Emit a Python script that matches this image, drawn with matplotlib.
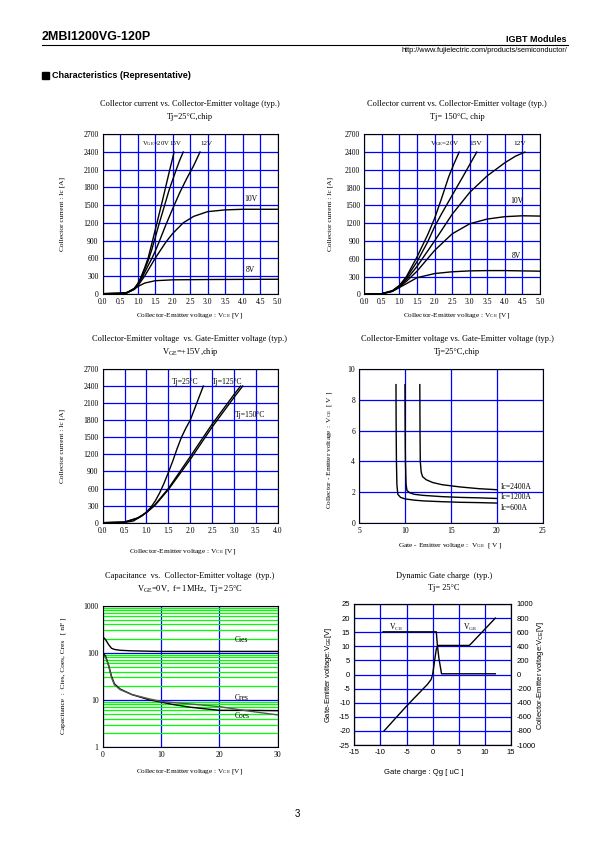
import matplotlib
matplotlib.use('Agg')
import numpy as np
import matplotlib.pyplot as plt
from matplotlib.ticker import NullFormatter, LogLocator

W, H = 595, 842
SERIF = ['Liberation Serif', 'DejaVu Serif']
SANS = ['Liberation Sans', 'DejaVu Sans']
plt.rcParams['font.family'] = SERIF
plt.rcParams['mathtext.default'] = 'regular'
plt.rcParams['axes.unicode_minus'] = False

BLUE = '#0000ff'
GREEN = '#00ff00'

# ---- Ic vs Vce, Tj=25C
v25_20 = [0, 0.5, 0.7, 0.9, 1.0, 1.1, 1.2, 1.3, 1.4, 1.5, 1.6, 1.7, 1.8, 1.9, 2.04]
i25_20 = [0, 5, 20, 90, 170, 290, 440, 610, 840, 1080, 1320, 1560, 1810, 2060, 2400]
v25_15 = [0, 0.5, 0.7, 0.9, 1.0, 1.1, 1.2, 1.3, 1.4, 1.5, 1.6, 1.7, 1.8, 1.9, 2.0, 2.1, 2.2, 2.3]
i25_15 = [0, 5, 20, 85, 160, 270, 410, 560, 740, 950, 1160, 1360, 1560, 1760, 1930, 2100, 2260, 2400]
v25_12 = [0, 0.5, 0.7, 0.9, 1.0, 1.1, 1.2, 1.3, 1.4, 1.5, 1.6, 1.8, 2.0, 2.2, 2.4, 2.6, 2.78]
i25_12 = [0, 5, 20, 80, 150, 250, 360, 480, 590, 720, 860, 1160, 1440, 1710, 1950, 2170, 2400]
v25_10 = [0, 0.5, 0.7, 0.9, 1.0, 1.2, 1.5, 1.8, 2.0, 2.3, 2.6, 3.0, 3.5, 4.0, 5.0]
i25_10 = [0, 5, 20, 70, 130, 300, 600, 870, 1020, 1200, 1310, 1390, 1420, 1430, 1430]
v25_8 = [0, 0.5, 0.7, 0.9, 1.0, 1.2, 1.5, 2.0, 3.0, 5.0]
i25_8 = [0, 5, 15, 80, 120, 180, 220, 235, 240, 245]

# ---- Ic vs Vce, Tj=150C
v150_20 = [0, 0.5, 0.8, 1.0, 1.2, 1.5, 1.8, 2.0, 2.2, 2.4, 2.55, 2.7]
i150_20 = [0, 10, 60, 150, 300, 630, 1000, 1280, 1620, 1980, 2200, 2400]
v150_15 = [0, 0.5, 0.8, 1.0, 1.2, 1.5, 1.8, 2.0, 2.2, 2.5, 2.8, 3.0, 3.2]
i150_15 = [0, 10, 60, 145, 280, 550, 880, 1140, 1360, 1670, 1980, 2190, 2400]
v150_12 = [0, 0.5, 0.8, 1.0, 1.2, 1.5, 2.0, 2.5, 3.0, 3.5, 4.0, 4.3, 4.57]
i150_12 = [0, 10, 55, 135, 250, 470, 900, 1350, 1720, 2000, 2220, 2330, 2400]
v150_10 = [0, 0.5, 0.8, 1.0, 1.2, 1.5, 2.0, 2.5, 3.0, 3.5, 4.0, 4.5, 5.0]
i150_10 = [0, 10, 50, 125, 220, 390, 740, 1020, 1190, 1270, 1310, 1325, 1320]
v150_8 = [0, 0.5, 0.8, 1.0, 1.2, 1.5, 2.0, 2.5, 3.0, 3.5, 4.0, 4.5, 5.0]
i150_8 = [0, 10, 50, 115, 180, 280, 350, 380, 395, 400, 400, 395, 390]

# ---- Ic vs Vce, VGE=15V, different Tj
vt25 = [0, 0.5, 0.7, 0.9, 1.0, 1.1, 1.2, 1.3, 1.4, 1.5, 1.6, 1.7, 1.8, 1.9, 2.0, 2.1, 2.2, 2.3]
it25 = [0, 5, 30, 120, 190, 270, 380, 520, 690, 880, 1080, 1300, 1500, 1660, 1800, 2000, 2200, 2400]
vt125 = [0, 0.5, 0.8, 1.0, 1.2, 1.5, 2.0, 2.5, 3.0, 3.15]
it125 = [0, 10, 80, 180, 320, 600, 1160, 1730, 2250, 2400]
vt150 = [0, 0.5, 0.8, 1.0, 1.2, 1.5, 2.0, 2.5, 3.0, 3.2]
it150 = [0, 12, 85, 175, 310, 580, 1110, 1680, 2200, 2400]

# ---- Vce vs Vge, Tj=25C
vge600 = [9.0, 9.02, 9.05, 9.1, 9.2, 9.5, 10, 11, 12, 14, 16, 18, 20]
vce600 = [9.0, 6.0, 4.0, 2.5, 1.85, 1.65, 1.55, 1.47, 1.42, 1.37, 1.33, 1.31, 1.28]
vge1200 = [9.98, 10.0, 10.03, 10.1, 10.2, 10.5, 11, 12, 14, 16, 18, 20]
vce1200 = [9.0, 6.0, 4.0, 2.5, 2.1, 1.95, 1.85, 1.78, 1.70, 1.65, 1.62, 1.58]
vge2400 = [11.6, 11.62, 11.65, 11.75, 11.9, 12.3, 13, 14, 16, 18, 20]
vce2400 = [9.0, 6.0, 4.0, 3.3, 3.0, 2.8, 2.62, 2.48, 2.33, 2.22, 2.15]

# ---- Capacitance vs Vce
vc = [0, 0.5, 1, 1.5, 2, 3, 5, 8, 10, 12, 15, 20, 25, 30]
cies = [220, 190, 150, 125, 118, 113, 110, 108, 107, 107, 107, 107, 107, 107]
cres = [100, 85, 55, 32, 22, 17, 13, 10, 9, 8, 7, 6, 6, 5.9]
coes = [90, 80, 55, 30, 21, 16.5, 13, 10.5, 9.3, 8.8, 8.2, 7.2, 5.8, 4.8]

# ---- Dynamic gate charge
qg_vge = [-9.3, -5, -1, -0.3, 0, 0.3, 0.7, 1.0, 7.0, 7.5, 12]
vge_q = [-20, -11.2, -3.5, -1.8, 0, 4, 9, 10.3, 10.3, 11.2, 20]
qg_vce = [-9.5, 0.7, 0.9, 1.2, 1.7, 12]
vce_q = [605, 605, 420, 230, 10, 10]

fig = plt.figure(figsize=(W / 100, H / 100), dpi=100)


def box(l, t, r, b):
    return fig.add_axes([l / W, 1 - b / H, (r - l) / W, (b - t) / H])


def txt(x, y, s, **kw):
    kw.setdefault('fontsize', 5.5)
    kw.setdefault('ha', 'center')
    kw.setdefault('va', 'center')
    fig.text(x / W, 1 - y / H, s, **kw)


def style(ax, fam=SERIF, fs=5.5):
    ax.set_axisbelow(True)
    ax.grid(True, color=BLUE, lw=0.9)
    ax.tick_params(length=0, pad=3, labelsize=fs)
    for lab in ax.get_xticklabels() + ax.get_yticklabels():
        lab.set_family(fam)
    for sp in ax.spines.values():
        sp.set_lw(0.8)


# header
txt(42, 37, '2MBI1200VG-120P', fontsize=9, fontweight='bold', family=SANS, ha='left')
txt(567, 39, 'IGBT Modules', fontsize=6.5, fontweight='bold', family=SANS, ha='right')
txt(567, 50, 'http://www.fujielectric.com/products/semiconductor/', fontsize=5.3, family=SANS, ha='right')
fig.add_artist(plt.Line2D([42 / W, 568 / W], [1 - 45 / H, 1 - 45 / H], color='black', lw=0.8))
fig.add_artist(plt.Rectangle((42 / W, 1 - 79 / H), 7 / W, 7 / H, color='black'))
txt(52, 75, 'Characteristics (Representative)', fontsize=6.5, fontweight='bold', family=SANS, ha='left')
txt(297, 814, '3', fontsize=7, family=SANS)

lc = dict(color='black', lw=1.0)
v_ticks = np.arange(0, 5.01, 0.5)
i_ticks = np.arange(0, 2701, 300)

# plot 1
ax1 = box(102.7, 134.3, 277.7, 293.7)
for v, i in [(v25_20, i25_20), (v25_15, i25_15), (v25_12, i25_12), (v25_10, i25_10), (v25_8, i25_8)]:
    ax1.plot(v, i, **lc)
ax1.set_xlim(0, 5)
ax1.set_ylim(0, 2700)
ax1.set_xticks(v_ticks, ['%.1f' % t for t in v_ticks])
ax1.set_yticks(i_ticks, ['%d' % t for t in i_ticks])
style(ax1)
ax1.text(1.12, 2550, 'V$_{GE}$=20V', fontsize=4.8, va='center')
ax1.text(1.9, 2550, '15V', fontsize=5, va='center')
ax1.text(2.78, 2550, '12V', fontsize=5, va='center')
ax1.text(4.04, 1610, '10V', fontsize=5.5, va='center')
ax1.text(4.1, 400, '8V', fontsize=5.5, va='center')
txt(190, 104, 'Collector current vs. Collector-Emitter voltage (typ.)', fontsize=6)
txt(190, 117, 'Tj=25\u00b0C,chip', fontsize=6)
txt(190, 316, 'Collector-Emitter voltage : V$_{CE}$ [V]', fontsize=5.3)
txt(62, 214, 'Collector current : Ic [A]', fontsize=5.3, rotation=90)

# plot 2
ax2 = box(364.3, 134.3, 540, 294.3)
for v, i in [(v150_20, i150_20), (v150_15, i150_15), (v150_12, i150_12), (v150_10, i150_10), (v150_8, i150_8)]:
    ax2.plot(v, i, **lc)
ax2.set_xlim(0, 5)
ax2.set_ylim(0, 2700)
ax2.set_xticks(v_ticks, ['%.1f' % t for t in v_ticks])
ax2.set_yticks(i_ticks, ['%d' % t for t in i_ticks])
style(ax2)
ax2.text(1.88, 2550, 'V$_{GE}$=20V', fontsize=5, va='center')
ax2.text(3.0, 2550, '15V', fontsize=5.3, va='center')
ax2.text(4.25, 2550, '12V', fontsize=5.3, va='center')
ax2.text(4.15, 1570, '10V', fontsize=5.5, va='center')
ax2.text(4.2, 650, '8V', fontsize=5.5, va='center')
txt(457, 104, 'Collector current vs. Collector-Emitter voltage (typ.)', fontsize=6)
txt(457, 117, 'Tj= 150\u00b0C, chip', fontsize=6)
txt(457, 316, 'Collector-Emitter voltage : V$_{CE}$ [V]', fontsize=5.3)
txt(330, 214, 'Collector current : Ic [A]', fontsize=5.3, rotation=90)

# plot 3
ax3 = box(102.7, 369, 277.7, 522.7)
for v, i in [(vt25, it25), (vt125, it125), (vt150, it150)]:
    ax3.plot(v, i, **lc)
ax3.set_xlim(0, 4)
ax3.set_ylim(0, 2700)
t3 = np.arange(0, 4.01, 0.5)
ax3.set_xticks(t3, ['%.1f' % t for t in t3])
ax3.set_yticks(i_ticks, ['%d' % t for t in i_ticks])
style(ax3)
ax3.text(1.58, 2470, 'Tj=25\u00b0C', fontsize=5.5, va='center')
ax3.text(2.5, 2470, 'Tj=125\u00b0C', fontsize=5.5, va='center')
ax3.text(3.02, 1890, 'Tj=150\u00b0C', fontsize=5.5, va='center')
txt(190, 339, 'Collector-Emitter voltage  vs. Gate-Emitter voltage (typ.)', fontsize=6)
txt(190, 352, 'V$_{GE}$=+15V,chip', fontsize=6)
txt(183, 551, 'Collector-Emitter voltage : V$_{CE}$ [V]', fontsize=5.3)
txt(62, 446, 'Collector current : Ic [A]', fontsize=5.3, rotation=90)

# plot 4
ax4 = box(359.3, 369.3, 542.7, 522.7)
for g, c in [(vge600, vce600), (vge1200, vce1200), (vge2400, vce2400)]:
    ax4.plot(g, c, **lc)
ax4.set_xlim(5, 25)
ax4.set_ylim(0, 10)
ax4.set_xticks([5, 10, 15, 20, 25])
ax4.set_yticks([0, 2, 4, 6, 8, 10])
style(ax4)
ax4.text(20.4, 2.33, 'Ic=2400A', fontsize=5.5, va='center')
ax4.text(20.4, 1.65, 'Ic=1200A', fontsize=5.5, va='center')
ax4.text(20.4, 0.95, 'Ic=600A', fontsize=5.5, va='center')
txt(457, 339, 'Collector-Emitter voltage vs. Gate-Emitter voltage (typ.)', fontsize=6)
txt(457, 352, 'Tj=25\u00b0C,chip', fontsize=6)
txt(450, 545, 'Gate - Emitter voltage :  V$_{GE}$  [ V ]', fontsize=5.3)
txt(329, 450, 'Collector - Emitter voltage :  V$_{CE}$  [ V ]', fontsize=5.3, rotation=90)

# plot 5
ax5 = box(102.7, 605.7, 277.7, 747)
ax5.set_yscale('log')
ax5.plot(vc, cies, **lc)
ax5.plot(vc, cres, **lc)
ax5.plot(vc, coes, color='#555555', lw=1.0)
ax5.set_xlim(0, 30)
ax5.set_ylim(1, 1000)
ax5.set_xticks([0, 10, 20, 30])
ax5.set_yticks([1, 10, 100, 1000], ['1', '10', '100', '1000'])
ax5.yaxis.set_minor_locator(LogLocator(base=10, subs=np.arange(2, 10)))
ax5.yaxis.set_minor_formatter(NullFormatter())
style(ax5)
ax5.grid(False)
ax5.yaxis.grid(True, which='minor', color=GREEN, lw=0.9)
ax5.yaxis.grid(True, which='major', color=BLUE, lw=0.9)
ax5.xaxis.grid(True, which='major', color=BLUE, lw=0.9)
ax5.tick_params(which='minor', length=0)
ax5.text(22.6, 190, 'Cies', fontsize=5.5, va='center')
ax5.text(22.6, 10.8, 'Cres', fontsize=5.5, va='center')
ax5.text(22.6, 4.6, 'Coes', fontsize=5.5, va='center')
txt(190, 576, 'Capacitance  vs.  Collector-Emitter voltage  (typ.)', fontsize=6)
txt(190, 589, 'V$_{GE}$=0V,  f= 1MHz,  Tj= 25\u00b0C', fontsize=6)
txt(190, 772, 'Collector-Emitter voltage : V$_{CE}$ [V]', fontsize=5.3)
txt(63, 676, 'Capacitance  :  Cies, Coes, Cres   [ nF ]', fontsize=5.3, rotation=90)

# plot 6
ax6 = box(354.3, 604, 511, 745)
ax6.plot(qg_vge, vge_q, **lc)
ax6.set_xlim(-15, 15)
ax6.set_ylim(-25, 25)
ax6.set_xticks(np.arange(-15, 16, 5))
ax6.set_yticks(np.arange(-25, 26, 5))
style(ax6, fam=SANS, fs=5.5)
ax6r = ax6.twinx()
ax6r.plot(qg_vce, vce_q, **lc)
ax6r.set_ylim(-1000, 1000)
ax6r.set_yticks(np.arange(-1000, 1001, 200))
ax6r.tick_params(length=0, pad=4, labelsize=5.5)
for lab in ax6r.get_yticklabels():
    lab.set_family(SANS)
for sp in ax6r.spines.values():
    sp.set_lw(0.8)
ax6.text(-8.3, 16.7, 'V$_{CE}$', fontsize=5.5, va='center')
ax6.text(5.9, 16.7, 'V$_{GE}$', fontsize=5.5, va='center')
txt(444, 576, 'Dynamic Gate charge  (typ.)', fontsize=6)
txt(444, 588, 'Tj= 25\u00b0C', fontsize=6)
txt(424, 773, 'Gate charge : Qg [ uC ]', fontsize=5.5, family=SANS)
txt(329, 675, 'Gate-Emitter voltage:V$_{GE}$[V]', fontsize=5.5, family=SANS, rotation=90)
txt(541, 675, 'Collector-Emitter voltage:V$_{CE}$[V]', fontsize=5.5, family=SANS, rotation=90)

fig.savefig('out.png', dpi=100)
